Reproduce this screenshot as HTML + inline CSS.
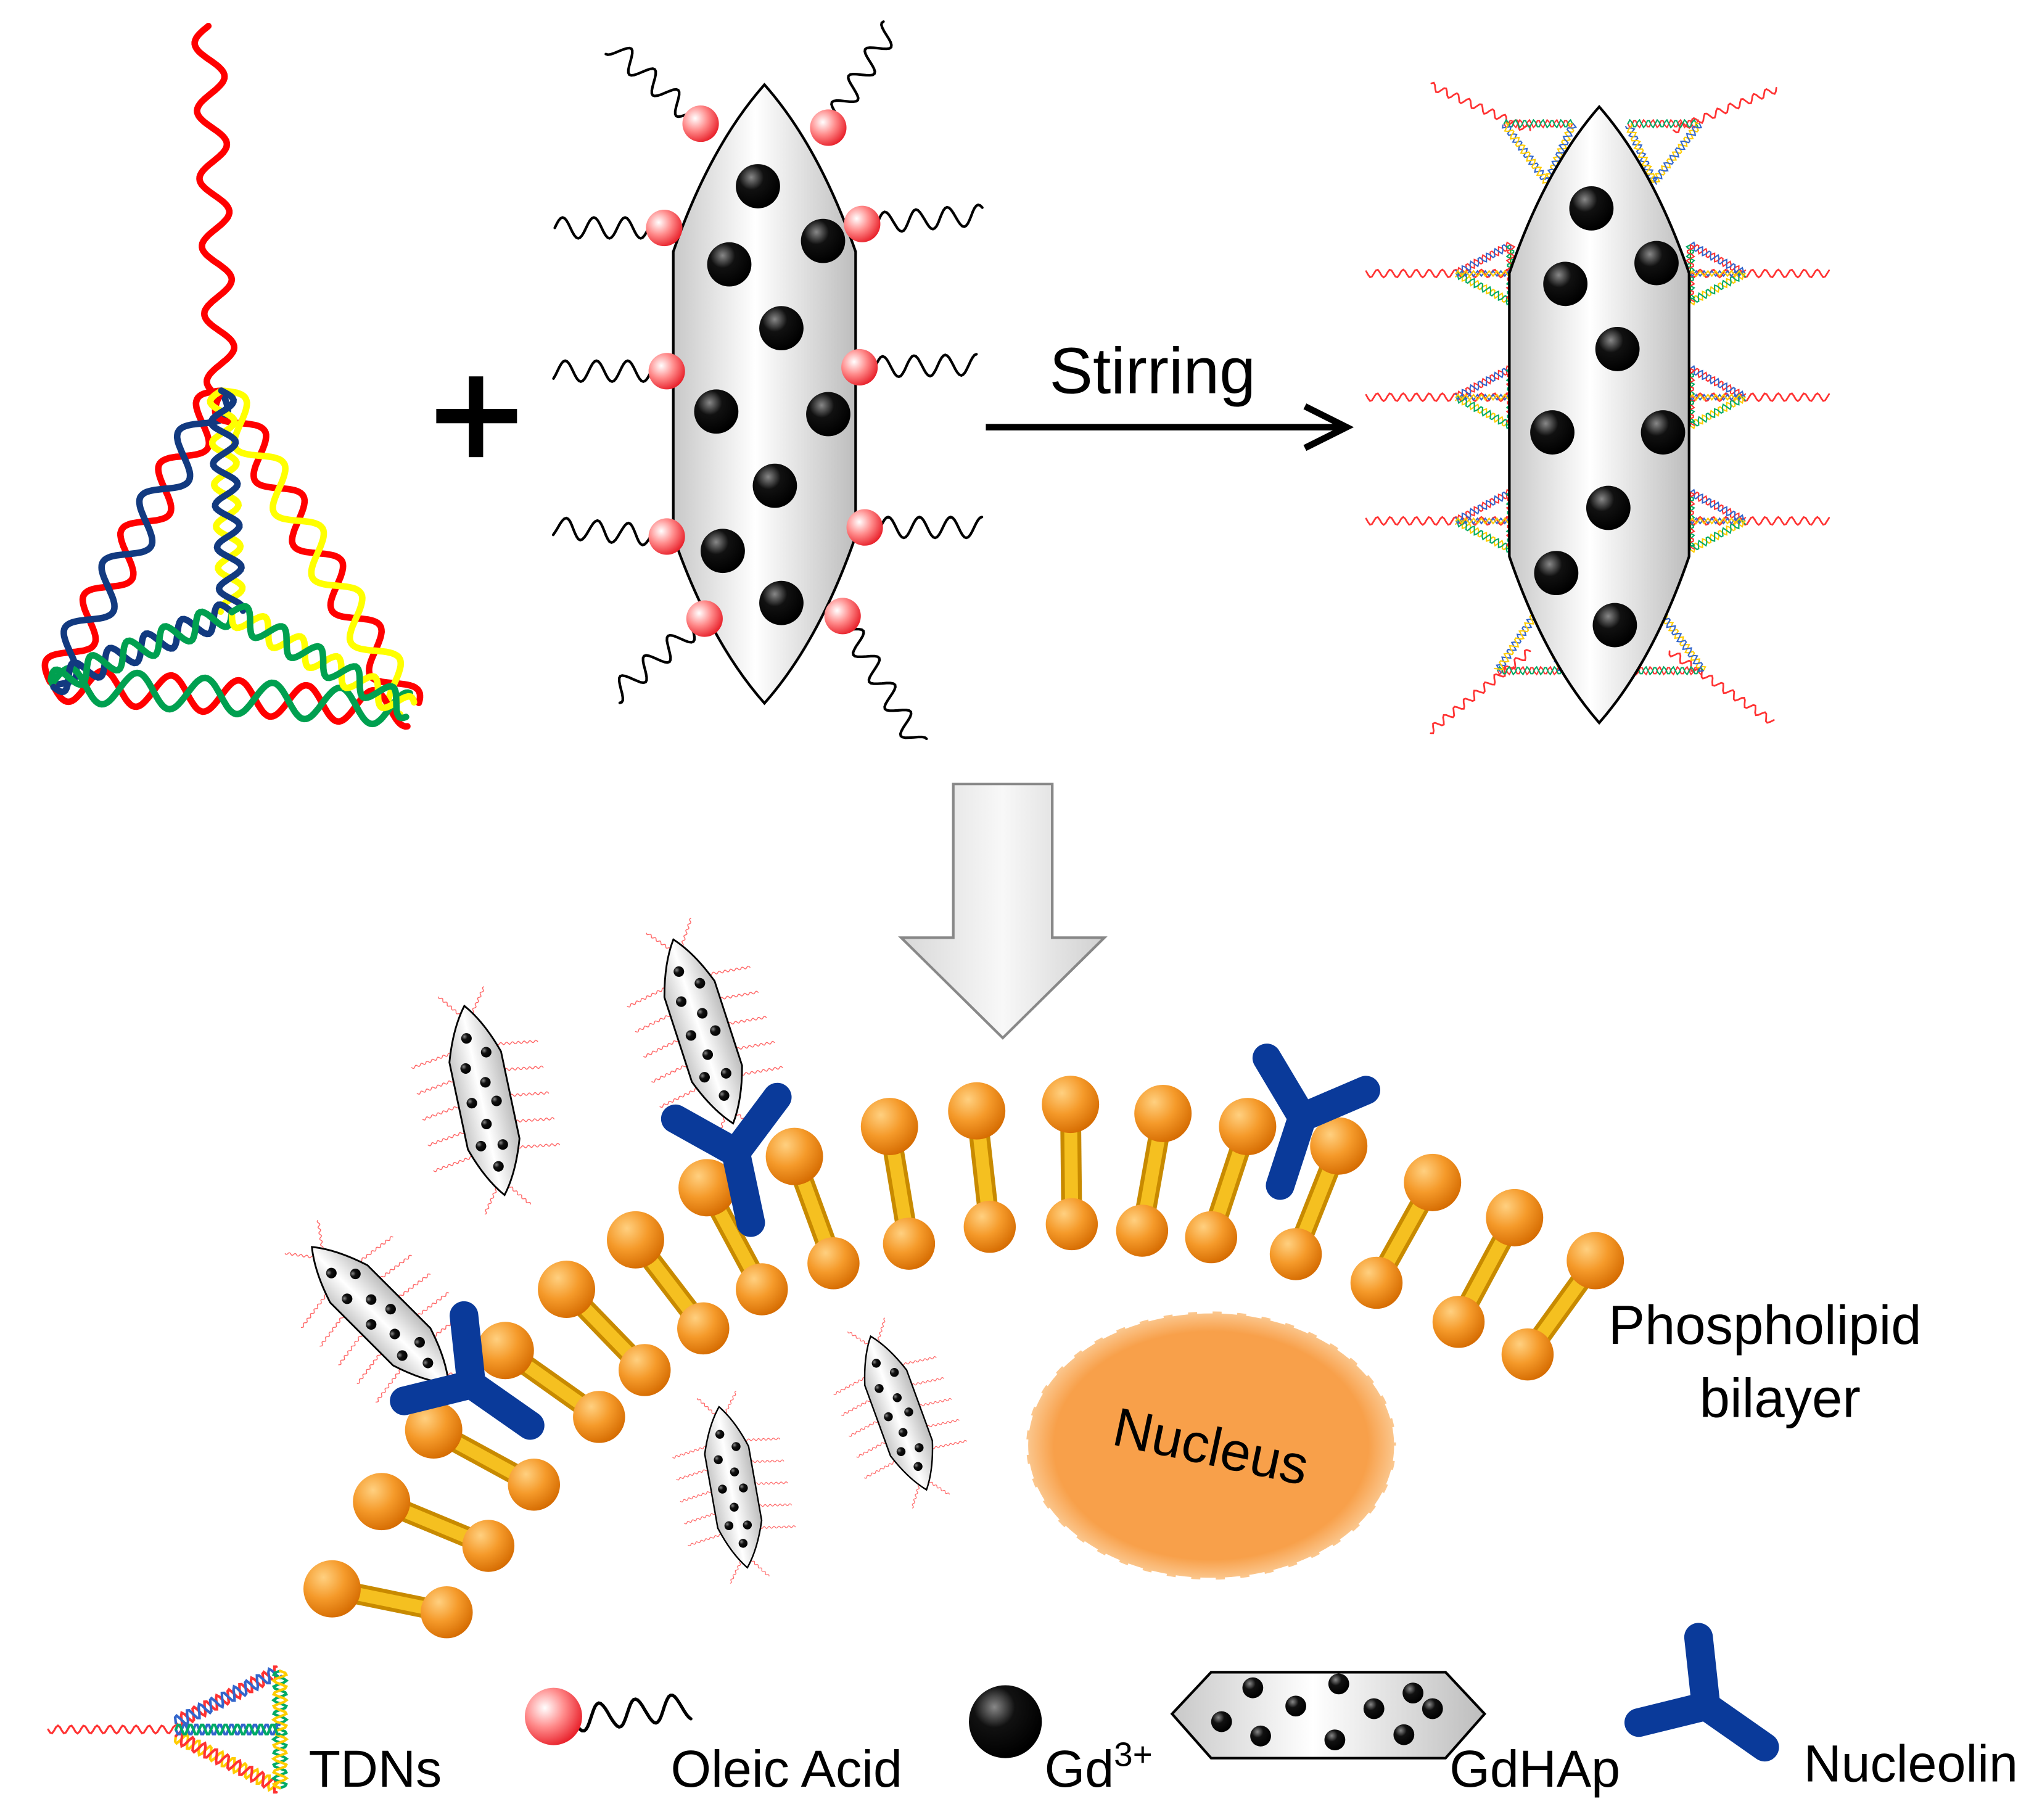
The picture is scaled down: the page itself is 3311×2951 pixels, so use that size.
<!DOCTYPE html>
<html><head><meta charset="utf-8"><style>
html,body{margin:0;padding:0;background:#fff;}
svg{display:block;}
text{font-family:"Liberation Sans",Arial,sans-serif;fill:#000;}
</style></head><body>
<svg id="s" width="3311" height="2951" viewBox="0 0 1568 1397.5" preserveAspectRatio="none" xmlns="http://www.w3.org/2000/svg">
<defs>
<linearGradient id="rodg" x1="0" y1="0" x2="1" y2="0">
<stop offset="0" stop-color="#c8c8c8"/><stop offset="0.45" stop-color="#ffffff"/><stop offset="1" stop-color="#bdbdbd"/>
</linearGradient>
<radialGradient id="redb" cx="0.35" cy="0.35" r="0.7"><stop offset="0" stop-color="#fff"/><stop offset="0.5" stop-color="#ff8a8a"/><stop offset="1" stop-color="#e8202a"/></radialGradient>
<radialGradient id="blk" cx="0.35" cy="0.3" r="0.7"><stop offset="0" stop-color="#888"/><stop offset="0.4" stop-color="#111"/><stop offset="1" stop-color="#000"/></radialGradient>
<radialGradient id="org" cx="0.35" cy="0.3" r="0.75"><stop offset="0" stop-color="#ffd080"/><stop offset="0.5" stop-color="#f59a2a"/><stop offset="1" stop-color="#d46a00"/></radialGradient>
<linearGradient id="bar" x1="0" y1="0" x2="1" y2="0"><stop offset="0" stop-color="#d99a00"/><stop offset="0.5" stop-color="#ffd040"/><stop offset="1" stop-color="#d99a00"/></linearGradient>
<linearGradient id="arr" x1="0" y1="0" x2="1" y2="0"><stop offset="0" stop-color="#d8d8d8"/><stop offset="0.5" stop-color="#f8f8f8"/><stop offset="1" stop-color="#d0d0d0"/></linearGradient>
<radialGradient id="nuc" cx="0.5" cy="0.5" r="0.5"><stop offset="0.85" stop-color="#f8a04a"/><stop offset="1" stop-color="#fbc890"/></radialGradient>
</defs>
<g id="g"></g>
<!-- arrow -->
<line x1="757" y1="328" x2="1030" y2="328" stroke="#000" stroke-width="5"/>
<polyline points="1002,312 1034,328 1002,344" fill="none" stroke="#000" stroke-width="5" stroke-linejoin="miter"/>
<text x="885" y="302" font-size="50" text-anchor="middle">Stirring</text>
<!-- plus -->
<rect x="335" y="314" width="62" height="11" fill="#000"/><rect x="360" y="289" width="11" height="62" fill="#000"/>
<!-- big down arrow -->
<path d="M732,602 L808,602 L808,720 L848,720 L770,797 L692,720 L732,720 Z" fill="url(#arr)" stroke="#888" stroke-width="2"/>
<!-- nucleus -->
<ellipse cx="930" cy="1110" rx="142" ry="103" fill="url(#nuc)" stroke="#fff" stroke-width="3" stroke-dasharray="12 7"/>
<text x="930" y="1125" font-size="42" text-anchor="middle" transform="rotate(12 930 1110)" fill="#222">Nucleus</text>
<text x="1235" y="1032" font-size="42">Phospholipid</text>
<text x="1305" y="1088" font-size="42">bilayer</text>
<text x="237" y="1372" font-size="40">TDNs</text>
<text x="515" y="1372" font-size="40">Oleic Acid</text>
<text x="802" y="1372" font-size="40">Gd<tspan font-size="26" dy="-16">3+</tspan></text>
<text x="1113" y="1372" font-size="40">GdHAp</text>
<text x="1385" y="1368" font-size="40">Nucleolin</text>
</svg>
<script>
var g=document.getElementById('g');var NS='http://www.w3.org/2000/svg';
function el(t,a,p){var e=document.createElementNS(NS,t);for(var k in a)e.setAttribute(k,a[k]);(p||g).appendChild(e);return e;}
function wave(x1,y1,x2,y2,amp,per,col,w,ph,p){var dx=x2-x1,dy=y2-y1,L=Math.hypot(dx,dy),ux=dx/L,uy=dy/L,nx=-uy,ny=ux,pts=[];ph=ph||0;for(var s=0;s<=L;s+=1.5){var o=amp*Math.sin(2*Math.PI*s/per+ph);pts.push((x1+ux*s+nx*o).toFixed(1)+','+(y1+uy*s+ny*o).toFixed(1));}
el('polyline',{points:pts.join(' '),fill:'none',stroke:col,'stroke-width':w,'stroke-linecap':'round'},p);}
function helix(a,b,c1,c2,amp,per,w,p){wave(a[0],a[1],b[0],b[1],amp,per,c1,w,0,p);wave(a[0],a[1],b[0],b[1],amp,per,c2,w,Math.PI,p);}
// TDN big
var T=[170,300],BL=[40,525],BR=[315,545],C=[178,470];
wave(160,20,170,300,11,52,'#f00',5);
helix(T,BL,'#f00','#123a80',13,58,5);
helix(T,BR,'#f00','#ff0',13,58,5);
helix(BL,BR,'#f00','#00a050',13,52,5);
helix(T,C,'#ff0','#123a80',9,32,5);
helix(C,BL,'#123a80','#00a050',9,30,5);
helix(C,BR,'#ff0','#00a050',9,32,5);
// rod function
function rodPath(cx,top,bot,hw){var h=bot-top;return 'M'+cx+','+top+' Q'+(cx-hw*0.6)+','+(top+h*0.1)+' '+(cx-hw)+','+(top+h*0.27)+' L'+(cx-hw)+','+(bot-h*0.27)+' Q'+(cx-hw*0.6)+','+(bot-h*0.1)+' '+cx+','+bot+' Q'+(cx+hw*0.6)+','+(bot-h*0.1)+' '+(cx+hw)+','+(bot-h*0.27)+' L'+(cx+hw)+','+(top+h*0.27)+' Q'+(cx+hw*0.6)+','+(top+h*0.1)+' '+cx+','+top+' Z';}
// Rod 1 oleic tails
var tails=[[538,95,470,35,-1],[636,98,685,20,1],[510,175,425,175,0],[662,172,755,165,0],[512,285,425,285,0],[660,282,750,280,0],[512,412,425,405,0],[664,405,755,405,0],[541,475,470,535,0],[647,473,705,572,0]];
tails.forEach(function(t){wave(t[0],t[1],t[2],t[3],8,24,'#000',2);});
el('path',{d:rodPath(587,65,540,70),fill:'url(#rodg)',stroke:'#000','stroke-width':2});
[[582,143],[632,185],[560,203],[600,252],[550,316],[636,318],[595,373],[555,423],[600,463]].forEach(function(d){el('circle',{cx:d[0],cy:d[1],r:17,fill:'url(#blk)'});});
tails.forEach(function(t){el('circle',{cx:t[0],cy:t[1],r:14,fill:'url(#redb)'});});
// Rod 2 with TDNs
function miniTDN(x,y,dir,len,p){var tip=[x+dir*len,y];wave(x,y-22,x,y+22,0,10,'#0a0',1,0,p);
helix([x,y-22],tip,'#f33','#36c',3,7,1,p);helix([x,y+22],tip,'#fc0','#0a6',3,7,1,p);helix([x,y-22],[x,y+22],'#0a6','#f33',3,7,1,p);helix([x,y],tip,'#36c','#fc0',2,6,1,p);}
[210,305,400].forEach(function(y){wave(1160,y,1048,y,3,10,'#f33',1.3);miniTDN(1160,y,-1,42);wave(1298,y,1405,y,3,10,'#f33',1.3);miniTDN(1298,y,1,42);});
wave(1175,100,1097,65,3,10,'#f33',1.3);wave(1285,100,1365,68,3,10,'#f33',1.3);
wave(1175,500,1097,562,3,10,'#f33',1.3);wave(1282,500,1362,555,3,10,'#f33',1.3);
function tri(pts){for(var i=0;i<3;i++){var a=pts[i],b=pts[(i+1)%3];helix(a,b,['#f33','#fc0','#36c'][i],['#0a6','#36c','#fc0'][i],3,7,1);}}
tri([[1155,95],[1208,95],[1188,140]]);tri([[1250,95],[1305,95],[1270,140]]);
tri([[1150,515],[1200,515],[1180,470]]);tri([[1255,515],[1308,515],[1275,470]]);
el('path',{d:rodPath(1228,82,555,69),fill:'url(#rodg)',stroke:'#000','stroke-width':2});
[[1222,160],[1272,202],[1202,218],[1242,268],[1192,332],[1277,332],[1235,390],[1195,440],[1240,480]].forEach(function(d){el('circle',{cx:d[0],cy:d[1],r:17,fill:'url(#blk)'});});
// small rods
function smallRod(cx,cy,ang,s){var gg=el('g',{transform:'translate('+cx+','+cy+') rotate('+ang+') scale('+s+')'});
for(var i=-2;i<=2;i++){var y=i*45;wave(-40,y,-110,y+10,2,10,'#f66',1.5,0,gg);wave(40,y,110,y+10,2,10,'#f66',1.5,0,gg);}
wave(-10,-150,-40,-190,2,10,'#f66',1.5,0,gg);wave(10,-150,40,-190,2,10,'#f66',1.5,0,gg);wave(-10,150,-40,190,2,10,'#f66',1.5,0,gg);wave(10,150,40,190,2,10,'#f66',1.5,0,gg);
el('path',{d:rodPath(0,-165,165,45),fill:'url(#rodg)',stroke:'#000','stroke-width':3},gg);
[[-8,-110],[20,-80],[-20,-60],[8,-30],[-22,0],[20,5],[-5,40],[-22,75],[15,80],[0,115]].forEach(function(d){el('circle',{cx:d[0],cy:d[1],r:9,fill:'url(#blk)'},gg);});}
smallRod(372,845,-12,0.45);smallRod(540,792,-18,0.45);smallRod(292,1010,-45,0.45);smallRod(690,1085,-20,0.38);smallRod(563,1142,-10,0.38);
// lipids
var L=[[255,1220,343,1238],[293,1153,375,1187],[333,1098,410,1140],[388,1037,460,1088],[435,990,495,1052],[488,952,540,1020],[543,912,585,990],[610,888,640,970],[683,865,698,955],[750,853,760,942],[822,848,823,940],[893,855,877,945],[958,865,930,950],[1028,880,995,963],[1100,908,1057,985],[1163,935,1120,1015],[1225,968,1173,1040]];
L.forEach(function(l){el('line',{x1:l[0],y1:l[1],x2:l[2],y2:l[3],stroke:'#c88a00','stroke-width':16});el('line',{x1:l[0],y1:l[1],x2:l[2],y2:l[3],stroke:'#f5c020','stroke-width':10});
el('circle',{cx:l[0],cy:l[1],r:22,fill:'url(#org)'});el('circle',{cx:l[2],cy:l[3],r:20,fill:'url(#org)'});});
// nucleolin
function Y(cx,cy,ang,s){var gg=el('g',{transform:'translate('+cx+','+cy+') rotate('+ang+') scale('+s+')'});
el('path',{d:'M0,0 L-40,-35 M0,0 L40,-35 M0,0 L0,55',stroke:'#0a3a9a','stroke-width':22,'stroke-linecap':'round',fill:'none'},gg);}
Y(565,885,-12,1);Y(1000,858,18,1);Y(362,1063,-55,1);Y(1310,1310,-55,1);
// legend
var lg=el('g',{transform:'translate(175,1328)'});
wave(-138,0,-40,0,3,10,'#f33',1.5,0,lg);
helix([-40,-5],[40,-45],'#f33','#36c',5,10,2,lg);helix([-40,5],[40,45],'#fc0','#f33',5,10,2,lg);helix([40,-45],[40,45],'#0a6','#fc0',5,10,2,lg);helix([-40,0],[40,0],'#36c','#0a6',4,9,2,lg);
wave(440,1320,530,1310,10,28,'#000',2.5);
el('circle',{cx:425,cy:1318,r:22,fill:'url(#redb)'});
el('circle',{cx:772,cy:1322,r:28,fill:'url(#blk)'});
el('path',{d:'M900,1316 L930,1284 L1110,1284 L1140,1316 L1110,1350 L930,1350 Z',fill:'url(#rodg)',stroke:'#000','stroke-width':2});
[[962,1296],[1028,1293],[1085,1300],[938,1322],[995,1310],[1055,1312],[1100,1312],[968,1333],[1025,1336],[1078,1332]].forEach(function(d){el('circle',{cx:d[0],cy:d[1],r:8,fill:'url(#blk)'});});
</script>
</body></html>
